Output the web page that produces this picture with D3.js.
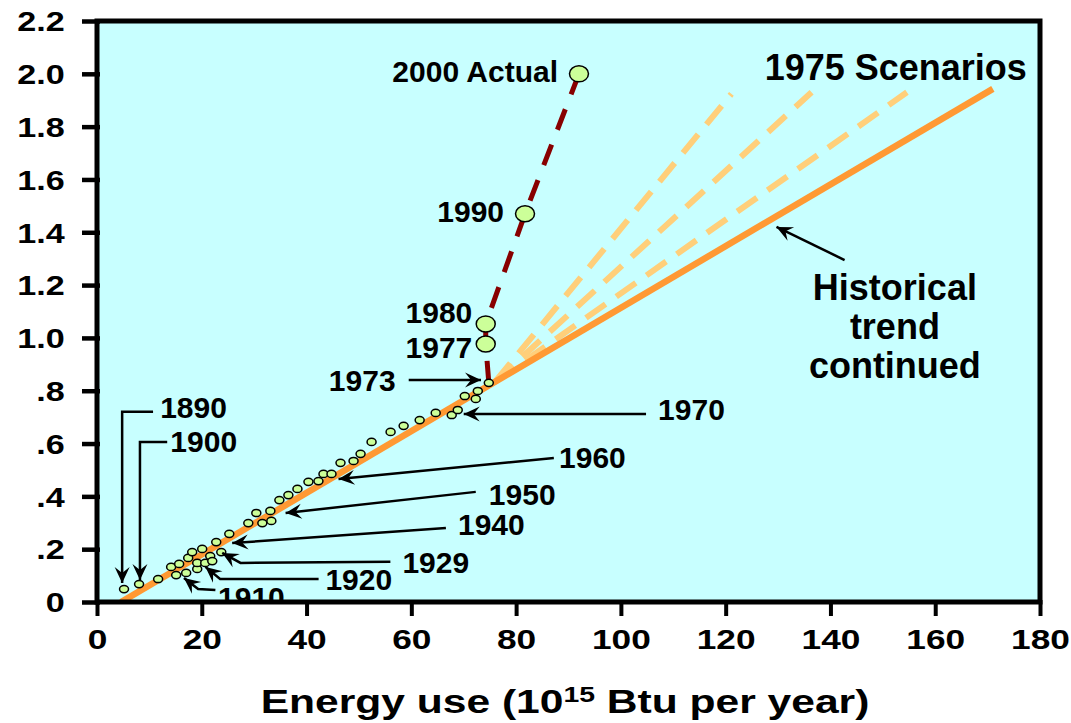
<!DOCTYPE html>
<html>
<head>
<meta charset="utf-8">
<script src="https://cdn.jsdelivr.net/npm/d3@7"></script>
<style>
  body { margin: 0; background: #fff; }
  svg { display: block; font-family: 'Liberation Sans', Arial, sans-serif; font-weight: bold; }
</style>
</head>
<body>
<div id="chart"></div>
<script>
// historical points, 1890 -> 1973 (energy use, value)
const histEnergy = [5.16, 8.03, 11.67, 14.15, 15.11, 15.68, 17.02, 17.41, 18.17, 19.13, 19.13, 20.08, 20.66, 21.61, 22.0,
  22.76, 23.72, 25.25, 28.88, 30.41, 31.56, 33.09, 33.28, 34.81, 36.53, 38.26, 40.36, 42.27, 43.23, 44.76,
  46.48, 48.97, 50.31, 52.41, 56.04, 58.53, 61.59, 64.65, 67.71, 68.86, 70.2, 72.3, 72.69, 74.79];
const histValue = [0.049, 0.068, 0.087, 0.133, 0.102, 0.144, 0.110, 0.167, 0.189, 0.125, 0.148, 0.201, 0.148, 0.174, 0.155,
  0.227, 0.189, 0.258, 0.299, 0.337, 0.299, 0.345, 0.307, 0.386, 0.405, 0.428, 0.455, 0.458, 0.485, 0.485,
  0.527, 0.534, 0.561, 0.606, 0.644, 0.667, 0.689, 0.716, 0.708, 0.727, 0.780, 0.769, 0.799, 0.830];

// what actually happened after 1973
const actualEnergy = [74.2, 74.2, 81.7, 92.0];
const actualValue = [0.977, 1.053, 1.47, 2.0];

// historical trend line and the 1975 scenarios
const trendEnergy = [4.6, 171];
const trendValue = [0, 1.943];
const scenarioStart = [76, 0.834];
const scenarioEnds = [[121.1, 1.924], [136.4, 1.93], [154.6, 1.93]];

const xTicks = [0, 20, 40, 60, 80, 100, 120, 140, 160, 180];
const yTicks = [0, 0.2, 0.4, 0.6, 0.8, 1.0, 1.2, 1.4, 1.6, 1.8, 2.0, 2.2];
const yTickLabels = ['0', '.2', '.4', '.6', '.8', '1.0', '1.2', '1.4', '1.6', '1.8', '2.0', '2.2'];

// year labels: text, anchor point in data units, text-anchor
const yearLabels = [
  ['1890', 12.05, 0.697, 'start'],
  ['1900', 14.0, 0.568, 'start'],
  ['1910', 23.1, -0.023, 'start'],
  ['1920', 43.6, 0.045, 'start'],
  ['1929', 58.3, 0.110, 'start'],
  ['1940', 68.9, 0.254, 'start'],
  ['1950', 74.8, 0.367, 'start'],
  ['1960', 88.2, 0.508, 'start'],
  ['1970', 107.1, 0.689, 'start'],
  ['1973', 57.0, 0.800, 'end'],
  ['1977', 58.9, 0.924, 'start'],
  ['1980', 58.9, 1.057, 'start'],
  ['1990', 77.7, 1.44, 'end'],
  ['2000 Actual', 88.0, 1.97, 'end']
];

// leader arrows, last point is the tip
const arrows = [
  [[10.7, 0.720], [4.8, 0.720], [4.8, 0.072]],
  [[13.4, 0.606], [8.2, 0.606], [8.2, 0.083]],
  [[22.6, 0.045], [19.3, 0.049], [16.6, 0.091]],
  [[42.3, 0.087], [23.5, 0.087], [20.7, 0.133]],
  [[56.0, 0.152], [27.4, 0.148], [23.9, 0.186]],
  [[66.6, 0.280], [25.8, 0.223]],
  [[72.3, 0.417], [36.0, 0.337]],
  [[87.2, 0.545], [46.1, 0.466]],
  [[104.8, 0.712], [70.0, 0.712]],
  [[59.5, 0.841], [73.3, 0.841]],
  [[142.7, 1.295], [129.7, 1.42]]
];

const trendLabel = ['Historical', 'trend', 'continued'];

const containerWidth = 1071, containerHeight = 723;
const margin = { top: 21, right: 31, bottom: 121, left: 97 };
const width = containerWidth - margin.left - margin.right;
const height = containerHeight - margin.top - margin.bottom;

const svg = d3.select('#chart')
  .append('svg')
  .attr('width', containerWidth)
  .attr('height', containerHeight);

const defs = svg.append('defs');
defs.append('clipPath').attr('id', 'plot-clip')
  .append('rect').attr('width', width).attr('height', height);
defs.append('marker')
  .attr('id', 'head')
  .attr('markerUnits', 'userSpaceOnUse')
  .attr('viewBox', '-17 -8 18 16')
  .attr('refX', 0).attr('refY', 0)
  .attr('markerWidth', 18).attr('markerHeight', 16)
  .attr('orient', 'auto')
  .append('path')
  .attr('d', 'M0,0 L-16,-7.5 L-10,0 L-16,7.5 Z')
  .attr('fill', '#000');

const chart = svg.append('g').attr('transform', `translate(${margin.left}, ${margin.top})`);

const x = d3.scaleLinear().domain([0, 180]).range([0, width]);
const y = d3.scaleLinear().domain([0, 2.2]).range([height, 0]);

chart.append('rect')
  .attr('width', width)
  .attr('height', height)
  .attr('fill', '#C8FFFF');

const plot = chart.append('g').attr('clip-path', 'url(#plot-clip)');

const line = d3.line().x(d => x(d[0])).y(d => y(d[1]));

// scenarios
plot.selectAll('.scenario')
  .data(scenarioEnds)
  .join('path')
  .attr('class', 'scenario')
  .attr('d', d => line([scenarioStart, d]))
  .attr('fill', 'none')
  .attr('stroke', '#FFCF7A')
  .attr('stroke-width', 6)
  .attr('stroke-dasharray', '24,13');

// historical trend continued
plot.append('path')
  .attr('d', line(trendEnergy.map((e, i) => [e, trendValue[i]])))
  .attr('fill', 'none')
  .attr('stroke', '#FF9933')
  .attr('stroke-width', 6.5);

// actual path after 1973
const lastHist = histEnergy.length - 1;
const actualPath = [[histEnergy[lastHist], histValue[lastHist]]]
  .concat(actualEnergy.map((e, i) => [e, actualValue[i]]));
plot.append('path')
  .attr('d', line(actualPath))
  .attr('fill', 'none')
  .attr('stroke', '#880000')
  .attr('stroke-width', 5)
  .attr('stroke-dasharray', '22,16');

plot.selectAll('.hist')
  .data(histEnergy)
  .join('ellipse')
  .attr('class', 'hist')
  .attr('cx', d => x(d))
  .attr('cy', (d, i) => y(histValue[i]))
  .attr('rx', 4.5).attr('ry', 3.6)
  .attr('fill', '#CCFF99')
  .attr('stroke', '#000')
  .attr('stroke-width', 1.5);

plot.selectAll('.actual')
  .data(actualEnergy)
  .join('ellipse')
  .attr('class', 'actual')
  .attr('cx', d => x(d))
  .attr('cy', (d, i) => y(actualValue[i]))
  .attr('rx', 9.5).attr('ry', 8)
  .attr('fill', '#CCFF99')
  .attr('stroke', '#000')
  .attr('stroke-width', 1.5);

// annotations
plot.selectAll('.arrow')
  .data(arrows)
  .join('path')
  .attr('class', 'arrow')
  .attr('d', d => line(d))
  .attr('fill', 'none')
  .attr('stroke', '#000')
  .attr('stroke-width', 2.5)
  .attr('marker-end', 'url(#head)');

plot.selectAll('.year')
  .data(yearLabels)
  .join('text')
  .attr('class', 'year')
  .attr('x', d => x(d[1]))
  .attr('y', d => y(d[2]))
  .attr('text-anchor', d => d[3])
  .attr('font-size', 30)
  .text(d => d[0]);

plot.append('text')
  .attr('x', x(177.5))
  .attr('y', y(1.977))
  .attr('text-anchor', 'end')
  .attr('font-size', 36)
  .text('1975 Scenarios');

plot.append('text')
  .attr('x', x(152.3))
  .attr('y', y(1.144))
  .attr('text-anchor', 'middle')
  .attr('font-size', 36)
  .selectAll('tspan')
  .data(trendLabel)
  .join('tspan')
  .attr('x', x(152.3))
  .attr('dy', (d, i) => i === 0 ? 0 : 39)
  .text(d => d);

// axes
const xAxis = chart.append('g')
  .attr('transform', `translate(0, ${height})`)
  .call(d3.axisBottom(x).tickValues(xTicks).tickSizeOuter(0))
  .attr('font-family', null)
  .attr('font-size', null);
xAxis.select('.domain').remove();
xAxis.selectAll('.tick line').attr('y1', -2).attr('y2', 14).attr('stroke-width', 4);
xAxis.selectAll('.tick text')
  .attr('y', 47).attr('dy', null)
  .attr('transform', 'scale(1.26,1)')
  .attr('font-size', 28)
  .attr('fill', '#000');

const yAxis = chart.append('g')
  .call(d3.axisLeft(y).tickValues(yTicks).tickFormat((d, i) => yTickLabels[i]).tickSizeOuter(0))
  .attr('font-family', null)
  .attr('font-size', null);
yAxis.select('.domain').remove();
yAxis.selectAll('.tick line').attr('x1', 3).attr('x2', -15).attr('stroke-width', 4.5);
yAxis.selectAll('.tick text')
  .attr('x', -26.5).attr('dy', '0.35em')
  .attr('transform', 'scale(1.22,1)')
  .attr('font-size', 28)
  .attr('fill', '#000');

// frame
chart.append('rect')
  .attr('width', width)
  .attr('height', height)
  .attr('fill', 'none')
  .attr('stroke', '#000')
  .attr('stroke-width', 5);

// axis title with superscript
const title = svg.append('text')
  .attr('transform', `translate(565, 713) scale(1.29,1)`)
  .attr('text-anchor', 'middle')
  .attr('font-size', 33);
title.append('tspan').text('Energy use (10');
title.append('tspan').attr('font-size', 22).attr('dy', -11).text('15');
title.append('tspan').attr('dy', 11).text(' Btu per year)');
</script>
</body>
</html>
